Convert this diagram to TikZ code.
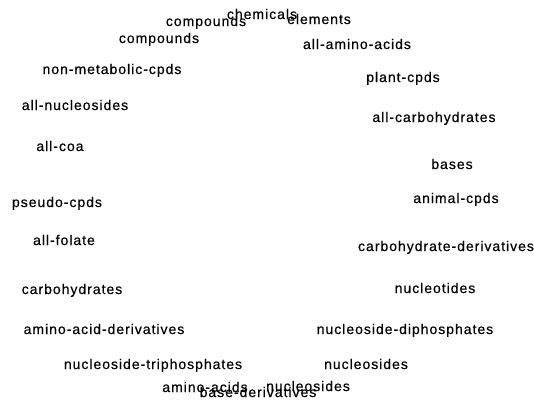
\documentclass[tikz,border=0pt]{standalone}
\usepackage{fontspec}
\setmainfont{Liberation Sans}[LetterSpace=7, FakeBold=0.4]
\begin{document}
\begin{tikzpicture}[x=1pt,y=-1pt,
  lbl/.style={inner sep=0pt, anchor=base, font=\fontsize{14}{16}\selectfont}]
\useasboundingbox (0,0) rectangle (534,400);
% labels set on a ring, baseline positions
\node[lbl] (chem)   at (262,19)  {chemicals};
\node[lbl] (cpdsA)  at (206,26)  {compounds};
\node[lbl] (elem)   at (319,24)  {elements};
\node[lbl] (cpdsB)  at (159,43)  {compounds};
\node[lbl] (aaa)    at (357,49)  {all-amino-acids};
\node[lbl] (nmc)    at (112,74)  {non-metabolic-cpds};
\node[lbl] (plant)  at (403,82)  {plant-cpds};
\node[lbl] (anuc)   at (75,110)  {all-nucleosides};
\node[lbl] (acarb)  at (434,122) {all-carbohydrates};
\node[lbl] (acoa)   at (60,151)  {all-coa};
\node[lbl] (bases)  at (452,169) {bases};
\node[lbl] (pseudo) at (57,207)  {pseudo-cpds};
\node[lbl] (animal) at (456,203) {animal-cpds};
\node[lbl] (afol)   at (64,245)  {all-folate};
\node[lbl] (carbd)  at (446,251) {carbohydrate-derivatives};
\node[lbl] (carb)   at (72,294)  {carbohydrates};
\node[lbl] (nuct)   at (435,293) {nucleotides};
\node[lbl] (aad)    at (104,334) {amino-acid-derivatives};
\node[lbl] (ndp)    at (405,334) {nucleoside-diphosphates};
\node[lbl] (ntp)    at (153,369) {nucleoside-triphosphates};
\node[lbl] (nucsA)  at (366,369) {nucleosides};
\node[lbl] (aa)     at (205,392) {amino-acids};
\node[lbl] (nucsB)  at (308,391) {nucleosides};
\node[lbl] (based)  at (258,397) {base-derivatives};
\end{tikzpicture}
\end{document}
